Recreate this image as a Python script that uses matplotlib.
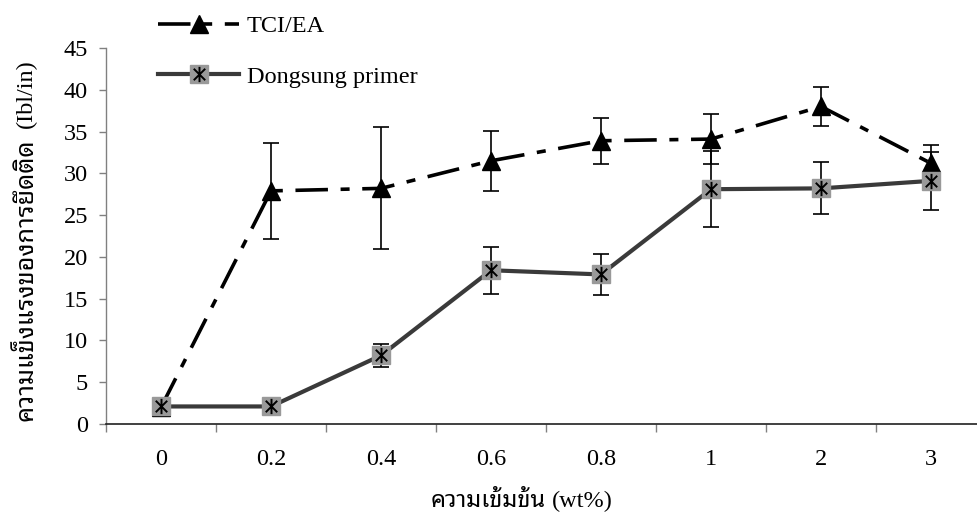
import matplotlib

matplotlib.use("Agg")
import matplotlib.pyplot as plt
from matplotlib import font_manager
from matplotlib.legend_handler import HandlerTuple
from matplotlib.path import Path

# data
CATEGORIES = ["0", "0.2", "0.4", "0.6", "0.8", "1", "2", "3"]
TCI_MEAN = [2.0, 27.9, 28.2, 31.5, 33.9, 34.1, 38.0, 31.2]
TCI_ERR = [0.0, 5.7, 7.3, 3.6, 2.75, 2.95, 2.35, 2.2]
DS_MEAN = [2.1, 2.1, 8.2, 18.4, 17.9, 28.1, 28.2, 29.1]
DS_ERR = [0.0, 0.0, 1.35, 2.8, 2.5, 4.55, 3.1, 3.5]

Y_TICKS = [0, 5, 10, 15, 20, 25, 30, 35, 40, 45]

SERIF = "Liberation Serif"
FS = 17.5
names = {f.name for f in font_manager.fontManager.ttflist}
THAI = next(
    (n for n in ("Noto Sans Thai Looped", "Noto Sans Thai", "Sarabun", "Bai Jamjuree", "Athiti") if n in names),
    "DejaVu Sans",
)

plt.rcParams["font.family"] = SERIF

W, H = 977, 513
fig = plt.figure(figsize=(W / 100, H / 100), dpi=100)
ax = fig.add_axes([106 / W, 1 - 424 / H, 880 / W, 376 / H])

x = list(range(len(CATEGORIES)))

# asterisk drawn over the grey squares
ast = Path(
    [(0, -1), (0, 1), (-0.75, -0.75), (0.75, 0.75), (-0.75, 0.75), (0.75, -0.75)],
    [Path.MOVETO, Path.LINETO, Path.MOVETO, Path.LINETO, Path.MOVETO, Path.LINETO],
)

ax.errorbar(x, TCI_MEAN, yerr=TCI_ERR, fmt="none", ecolor="black", elinewidth=1.2,
            capsize=5.8, capthick=1.2, zorder=3)
ax.errorbar(x, DS_MEAN, yerr=DS_ERR, fmt="none", ecolor="black", elinewidth=1.2,
            capsize=5.8, capthick=1.2, zorder=3)

(tci_line,) = ax.plot(x, TCI_MEAN, color="black", lw=2.6, dashes=(9, 3.5, 2.5, 3.5),
                      marker="^", markersize=12.5, markerfacecolor="black",
                      markeredgecolor="black", label="TCI/EA", zorder=4)
(ds_line,) = ax.plot(x, DS_MEAN, color="#3a3a3a", lw=3.0, marker="s", markersize=13,
                     markerfacecolor="#999999", markeredgecolor="#999999", zorder=5)
(ds_star,) = ax.plot(x, DS_MEAN, ls="none", marker=ast, markersize=11,
                     markeredgecolor="black", markeredgewidth=1.4, zorder=6)

ax.set_xlim(-0.5, len(CATEGORIES) - 0.5)
ax.set_ylim(0, 45)
ax.set_yticks(Y_TICKS)
ax.set_yticklabels([str(v) for v in Y_TICKS])

ax.set_xticks([i - 0.5 for i in x])
ax.set_xticklabels([])
ax.set_xticks(x, minor=True)
ax.set_xticklabels(CATEGORIES, minor=True)
ax.tick_params(axis="x", which="major", direction="out", length=5.5, width=1, color="#808080")
ax.tick_params(axis="x", which="minor", length=0, pad=18, labelsize=FS)
ax.tick_params(axis="y", direction="out", length=5, width=1, color="#808080", pad=8, labelsize=FS)

for side in ("top", "right"):
    ax.spines[side].set_visible(False)
ax.spines["left"].set_color("#808080")
ax.spines["bottom"].set_color("#202020")
ax.spines["left"].set_linewidth(1.0)
ax.spines["bottom"].set_linewidth(1.2)

# axis titles: Thai part bold, unit part in serif
fig.text(546 / W, 1 - 507 / H, "ความเข้มข้น", family=THAI, weight="bold", fontsize=17,
         ha="right", va="baseline")
fig.text(552 / W, 1 - 507 / H, "(wt%)", fontsize=FS, ha="left", va="baseline")
fig.text(33 / W, 1 - 421 / H, "ความแข็งแรงของการยึดติด", family=THAI, weight="bold",
         fontsize=18.2, rotation=90, rotation_mode="anchor", ha="left", va="baseline")
fig.text(32 / W, 1 - 128 / H, "(Ibl/in)", fontsize=FS, rotation=90,
         rotation_mode="anchor", ha="left", va="baseline")

ax.legend([tci_line, (ds_line, ds_star)], ["TCI/EA", "Dongsung primer"],
          handler_map={tuple: HandlerTuple(ndivide=1)},
          loc="upper left", bbox_to_anchor=(158 / W, 1 - 15 / H), bbox_transform=fig.transFigure,
          frameon=False, borderpad=0, borderaxespad=0, handlelength=3.35, handletextpad=0.3,
          labelspacing=1.19, numpoints=1, fontsize=FS)

fig.savefig("out.png", dpi=100)
